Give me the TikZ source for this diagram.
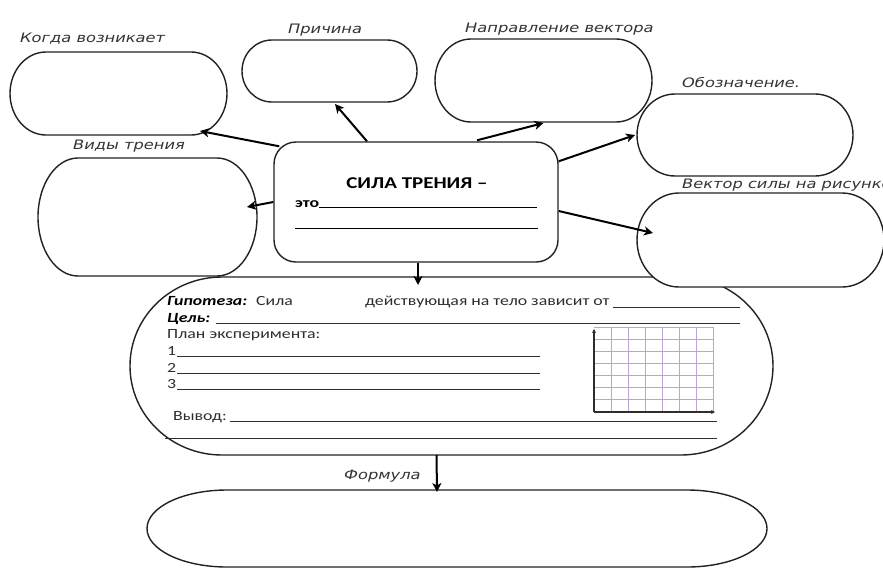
\documentclass[tikz,border=0pt]{standalone}
\usepackage{fontspec}
\setmainfont{Carlito}
\newfontfamily\labfont[FakeStretch=1.25]{DejaVu Sans}
\newfontfamily\bodyfont[FakeStretch=1.27]{Carlito}
\usetikzlibrary{arrows.meta,calc}
\definecolor{ink}{HTML}{222222}
\definecolor{labgray}{HTML}{333333}
\definecolor{txtgray}{HTML}{2E2E2E}
\definecolor{gridpurple}{HTML}{BFA3D6}
\tikzset{
  area/.style={rectangle,draw=none,inner sep=0pt,outer sep=0pt},
  boxline/.style={draw=ink,line width=1.4pt,fill=white},
  conn/.style={draw=black,line width=2pt,-{Stealth[length=9pt,width=9pt,inset=2.5pt]}},
  lab/.style={inner sep=0pt,anchor=west,text=labgray,font=\labfont\itshape\fontsize{13}{15}\selectfont},
  body/.style={inner sep=0pt,anchor=base west,text=txtgray,font=\bodyfont\fontsize{14}{16}\selectfont},
  rule/.style={draw=txtgray,line width=0.9pt},
}
\newcommand\stadium[3]{%
  \draw[boxline] ([xshift=#2]#1.north west) -- ([xshift=-#2]#1.north east)
    arc[start angle=90,end angle=-90,x radius=#2,y radius=#3]
    -- ([xshift=#2]#1.south west)
    arc[start angle=270,end angle=90,x radius=#2,y radius=#3] -- cycle;}
\begin{document}
\begin{tikzpicture}[x=1pt,y=-1pt]
\useasboundingbox (0,0) rectangle (883,571);
\clip (0,0) rectangle (883,571);
\fill[white] (0,0) rectangle (883,571);

% box areas
\node[area,minimum width=217pt,minimum height=83pt] (kogda) at (118.5,93.5) {};
\node[area,minimum width=175pt,minimum height=62pt] (prich) at (329.5,71) {};
\node[area,minimum width=217pt,minimum height=83pt] (napr) at (543.5,80.5) {};
\node[area,minimum width=216pt,minimum height=82pt] (obozn) at (745,135) {};
\node[area,minimum width=219pt,minimum height=118pt] (vidy) at (147.5,217) {};
\node[area,minimum width=643pt,minimum height=178pt] (hyp) at (451.5,366) {};
\node[area,minimum width=247pt,minimum height=94pt] (vekt) at (760.5,240) {};
\node[area,minimum width=620pt,minimum height=77pt] (form) at (457,528.5) {};

\stadium{kogda}{36pt}{41.5pt}
\stadium{prich}{30pt}{31pt}
\stadium{napr}{36pt}{41.5pt}
\stadium{obozn}{38pt}{41pt}
\stadium{vidy}{40pt}{59pt}
\stadium{hyp}{92pt}{89pt}
\stadium{vekt}{42pt}{47pt}
\stadium{form}{80pt}{38.5pt}

% central box
\node[draw=ink,line width=1.4pt,fill=white,rounded corners=22pt,minimum width=284pt,minimum height=120pt,inner sep=0pt] (cent) at (416,202) {};
\node[inner sep=0pt,text=black,font=\bodyfont\bfseries\fontsize{16.5}{19}\selectfont] (title) at (417,183) {СИЛА ТРЕНИЯ –};
\node[inner sep=0pt,anchor=base west,text=black,font=\bodyfont\bfseries\fontsize{14}{16}\selectfont] (eto) at (295,207) {это};
\draw[rule,draw=black] (eto.base east) -- (537,207);
\draw[rule,draw=black] (295,228) -- (538,228);

% labels
\node[lab] (lkogda) at (20,39) {Когда возникает};
\node[lab] (lprich) at (288,30) {Причина};
\node[lab] (lnapr) at (465,29) {Направление вектора};
\node[lab] (lobozn) at (682,83) {Обозначение.};
\node[lab] (lvekt) at (682,185) {Вектор силы на рисунке};
\node[lab] (lvidy) at (73,146) {Виды трения};
\node[lab] (lform) at (344,476) {Формула};

% connectors
\draw[conn] ($(cent.north west)+(6,5)$) -- ($(kogda.south east)+(-27,-4)$);
\draw[conn] ($(cent.north)+(-49,0)$) -- ($(prich.south)+(5.5,2)$);
\draw[conn] ($(cent.north)+(61,-1)$) -- ($(napr.south)+(0,1)$);
\draw[conn] ($(cent.north east)+(0,20)$) -- ($(obozn.west)+(-2,0)$);
\draw[conn] ($(cent.east)+(0,9)$) -- ($(vekt.west)+(16,-7)$);
\draw[conn] (cent.west) -- ($(vidy.east)+(-10,-10)$);
\draw[conn] ($(cent.south)+(2,0)$) -- ($(hyp.north)+(-33.5,8)$);
\draw[conn] ($(hyp.south)+(-15,0)$) -- ($(form.north)+(-20,2)$);

% hypothesis content
\node[body,font=\bodyfont\bfseries\itshape\fontsize{14}{16}\selectfont,text=black] (gip) at (167,305) {Гипотеза:};
\node[body] (sila) at (256,305) {Сила};
\node[body] (deist) at (365,305) {действующая на тело зависит от};
\draw[rule] (613,307) -- (740,307);
\node[body,font=\bodyfont\bfseries\itshape\fontsize{14}{16}\selectfont,text=black] (cel) at (167,322) {Цель:};
\draw[rule] (216,323) -- (740,323);
\node[body] (plan) at (167,338) {План эксперимента:};
\node[body] (n1) at (167,355) {1};
\draw[rule] (177,356) -- (540,356);
\node[body] (n2) at (167,372) {2};
\draw[rule] (177,373) -- (540,373);
\node[body] (n3) at (167,388) {3};
\draw[rule] (177,389) -- (540,389);
\node[body] (vyv) at (173,420) {Вывод:};
\draw[rule] (230,421) -- (717,421);
\draw[rule] (165,438) -- (717,438);

% graph grid
\foreach \i in {1,...,7} \draw[gridpurple,line width=0.8pt] (594+17*\i,327) -- (594+17*\i,412);
\foreach \j in {0,...,6} \draw[gridpurple,line width=0.8pt] (594,327+12.14*\j) -- (713,327+12.14*\j);
\draw[txtgray,line width=1.3pt,-{Stealth[length=4pt,width=4pt]}] (594,412) -- (594,329);
\draw[txtgray,line width=1.3pt,-{Stealth[length=4pt,width=4pt]}] (594,412) -- (715,412);
\end{tikzpicture}
\end{document}
